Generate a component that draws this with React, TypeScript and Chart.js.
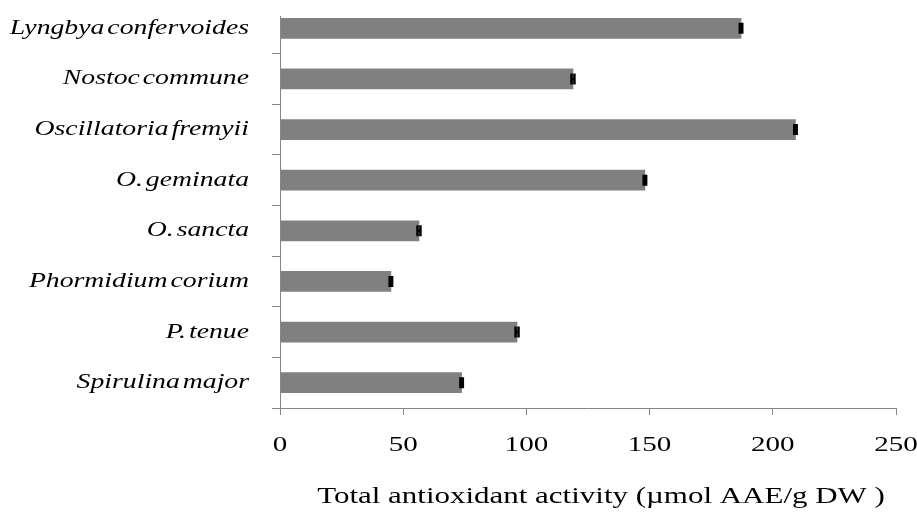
import { useEffect, useRef } from "react";
import { Chart, registerables } from "chart.js";

Chart.register(...registerables);

// Cyanobacterial species, listed top to bottom
const species = [
  "Lyngbya confervoides",
  "Nostoc commune",
  "Oscillatoria fremyii",
  "O. geminata",
  "O. sancta",
  "Phormidium corium",
  "P. tenue",
  "Spirulina major",
];

// Total antioxidant activity (µmol AAE/g DW) and its standard error
const activity = [187.1, 118.9, 209.2, 148.1, 56.4, 45.0, 96.2, 73.7];
const activityError = [0.5, 0.6, 0.5, 0.5, 0.6, 0.5, 0.6, 0.5];

const xTickValues = [0, 50, 100, 150, 200, 250];
const xAxisTitle = "Total antioxidant activity (µmol AAE/g DW )";

const SERIF = '"Liberation Serif", "Times New Roman", serif';
const AXIS_GREY = "#868686";

function drawWideText(
  ctx: CanvasRenderingContext2D,
  text: string,
  x: number,
  y: number,
  align: "left" | "center" | "right",
  font: string,
  stretch: number,
  wordSpacing = "0px"
) {
  ctx.save();
  ctx.font = font;
  (ctx as any).wordSpacing = wordSpacing;
  ctx.textBaseline = "middle";
  ctx.textAlign = "left";
  ctx.fillStyle = "#000";
  const w = ctx.measureText(text).width * stretch;
  const left = align === "right" ? x - w : align === "center" ? x - w / 2 : x;
  ctx.translate(left, y);
  ctx.scale(stretch, 1);
  ctx.fillText(text, 0, 0);
  ctx.restore();
}

const decorations = {
  id: "decorations",
  afterDatasetsDraw(chart: Chart) {
    const ctx = chart.ctx;
    const xs = chart.scales.x;
    const meta = chart.getDatasetMeta(0);

    // error bars
    ctx.save();
    ctx.strokeStyle = "#000";
    ctx.lineWidth = 2.5;
    meta.data.forEach((bar: any, i: number) => {
      const v = activity[i];
      const e = activityError[i];
      const x1 = xs.getPixelForValue(v - e);
      const x2 = xs.getPixelForValue(v + e);
      const y = bar.y;
      const cap = 5.5;
      ctx.beginPath();
      ctx.moveTo(x1, y);
      ctx.lineTo(x2, y);
      ctx.moveTo(x1, y - cap);
      ctx.lineTo(x1, y + cap);
      ctx.moveTo(x2, y - cap);
      ctx.lineTo(x2, y + cap);
      ctx.stroke();
    });
    ctx.restore();
  },
  afterDraw(chart: Chart) {
    const ctx = chart.ctx;
    const xs = chart.scales.x;
    const ys = chart.scales.y;
    const area = chart.chartArea;

    // vertical axis line
    ctx.save();
    ctx.strokeStyle = AXIS_GREY;
    ctx.lineWidth = 1;
    ctx.beginPath();
    ctx.moveTo(Math.round(area.left) + 0.5, area.top + 13);
    ctx.lineTo(Math.round(area.left) + 0.5, area.bottom);
    ctx.stroke();
    ctx.restore();

    // category labels
    species.forEach((name, i) => {
      drawWideText(
        ctx,
        name,
        area.left - 31,
        ys.getPixelForValue(i),
        "right",
        `italic 21px ${SERIF}`,
        1.32,
        "-3px"
      );
    });

    // value tick labels
    xTickValues.forEach((v) => {
      drawWideText(ctx, String(v), xs.getPixelForValue(v), area.bottom + 37, "center", `22px ${SERIF}`, 1.32);
    });

    // axis title
    drawWideText(
      ctx,
      xAxisTitle,
      (area.left + area.right) / 2 + 13,
      area.bottom + 89,
      "center",
      `24px ${SERIF}`,
      1.29
    );
  },
};

export default function App() {
  const canvasRef = useRef<HTMLCanvasElement | null>(null);

  useEffect(() => {
    document.body.style.margin = "0";
    const canvas = canvasRef.current;
    if (!canvas) return;
    const chart = new Chart(canvas, {
      type: "bar",
      data: {
        labels: species,
        datasets: [
          {
            data: activity,
            backgroundColor: "#808080",
            borderWidth: 0,
            barThickness: 20,
          },
        ],
      },
      options: {
        indexAxis: "y",
        responsive: false,
        animation: false,
        layout: { padding: { top: 3, right: 21, bottom: 0, left: 0 } },
        plugins: {
          legend: { display: false },
          tooltip: { enabled: false },
        },
        scales: {
          x: {
            type: "linear",
            min: 0,
            max: 250,
            ticks: { stepSize: 50, display: false },
            grid: {
              drawOnChartArea: false,
              drawTicks: true,
              tickLength: 7,
              color: AXIS_GREY,
            },
            border: { display: true, color: AXIS_GREY },
            afterFit: (s: any) => {
              s.height = 105;
            },
          },
          y: {
            type: "category",
            ticks: { display: false },
            grid: {
              offset: true,
              drawOnChartArea: false,
              drawTicks: true,
              tickLength: 8,
              color: (c: any) => (c.index === 0 ? "rgba(0,0,0,0)" : AXIS_GREY),
            },
            border: { display: false },
            afterFit: (s: any) => {
              s.width = 280;
            },
          },
        },
      },
      plugins: [decorations],
    });
    return () => chart.destroy();
  }, []);

  return <canvas ref={canvasRef} width={917} height={513} style={{ display: "block" }} />;
}
